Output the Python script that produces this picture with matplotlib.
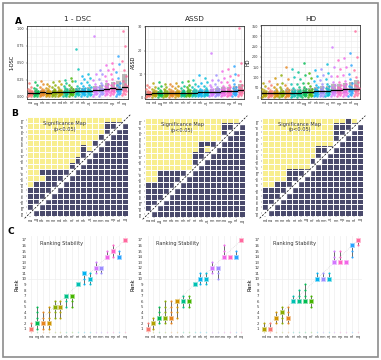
import numpy as np
import matplotlib
matplotlib.use("Agg")
import matplotlib.pyplot as plt
from matplotlib.patches import Rectangle
from matplotlib.colors import ListedColormap, to_rgb

# method names (tiny labels in the source are not legible)
methods = ["m" + c for c in "abcdefghijklmnopq"]

# method (colour index) shown at each x position, per metric
order_dsc = [0, 6, 1, 2, 4, 3, 7, 5, 8, 10, 9, 13, 12, 14, 15, 11, 16]
order_assd = [0, 3, 6, 4, 1, 2, 7, 5, 8, 10, 9, 13, 12, 14, 15, 11, 16]
order_hd = [3, 0, 2, 4, 1, 8, 7, 6, 5, 10, 12, 9, 13, 15, 14, 11, 16]

# A: per-case values, read roughly off the strips
dsc = [
    [0.01, 0.02, 0.03, 0.04, 0.04, 0.05, 0.05, 0.06, 0.06, 0.07, 0.08, 0.09, 0.10, 0.12, 0.15, 0.20],
    [0.01, 0.02, 0.03, 0.04, 0.05, 0.05, 0.06, 0.06, 0.07, 0.07, 0.08, 0.09, 0.11, 0.13, 0.17, 0.22],
    [0.02, 0.03, 0.03, 0.04, 0.05, 0.05, 0.06, 0.07, 0.07, 0.08, 0.09, 0.10, 0.12, 0.15, 0.19, 0.24],
    [0.01, 0.02, 0.03, 0.04, 0.05, 0.05, 0.06, 0.06, 0.07, 0.08, 0.08, 0.09, 0.11, 0.13, 0.16, 0.19],
    [0.01, 0.02, 0.03, 0.04, 0.05, 0.05, 0.06, 0.07, 0.07, 0.08, 0.09, 0.10, 0.12, 0.14, 0.18, 0.22],
    [0.02, 0.03, 0.03, 0.04, 0.05, 0.06, 0.06, 0.07, 0.07, 0.08, 0.09, 0.10, 0.12, 0.15, 0.19, 0.23],
    [0.01, 0.02, 0.03, 0.04, 0.05, 0.06, 0.06, 0.07, 0.08, 0.08, 0.09, 0.11, 0.13, 0.16, 0.20, 0.25],
    [0.02, 0.03, 0.04, 0.04, 0.05, 0.06, 0.07, 0.07, 0.08, 0.09, 0.10, 0.12, 0.14, 0.18, 0.23, 0.28],
    [0.02, 0.03, 0.04, 0.05, 0.06, 0.06, 0.07, 0.08, 0.08, 0.09, 0.11, 0.13, 0.16, 0.24, 0.41, 0.71],
    [0.02, 0.03, 0.04, 0.05, 0.06, 0.07, 0.07, 0.08, 0.09, 0.10, 0.11, 0.13, 0.16, 0.20, 0.26, 0.31],
    [0.02, 0.03, 0.04, 0.05, 0.06, 0.07, 0.08, 0.08, 0.09, 0.10, 0.12, 0.14, 0.17, 0.22, 0.28, 0.34],
    [0.02, 0.04, 0.05, 0.06, 0.07, 0.08, 0.08, 0.09, 0.10, 0.11, 0.13, 0.15, 0.19, 0.25, 0.33, 0.90],
    [0.02, 0.04, 0.05, 0.06, 0.07, 0.08, 0.09, 0.10, 0.11, 0.12, 0.14, 0.17, 0.21, 0.27, 0.34, 0.40],
    [0.03, 0.04, 0.06, 0.07, 0.08, 0.09, 0.10, 0.11, 0.12, 0.14, 0.16, 0.19, 0.24, 0.31, 0.39, 0.47],
    [0.03, 0.05, 0.06, 0.07, 0.08, 0.09, 0.10, 0.12, 0.13, 0.15, 0.17, 0.21, 0.26, 0.33, 0.41, 0.50],
    [0.02, 0.04, 0.05, 0.06, 0.07, 0.08, 0.09, 0.10, 0.12, 0.14, 0.17, 0.21, 0.28, 0.37, 0.48, 0.60],
    [0.03, 0.05, 0.06, 0.08, 0.09, 0.10, 0.12, 0.14, 0.16, 0.19, 0.24, 0.31, 0.40, 0.52, 0.74, 0.97],
]
assd = [
    [0.4, 0.7, 0.9, 1.1, 1.3, 1.4, 1.6, 1.7, 1.9, 2.1, 2.3, 2.6, 3.0, 3.6, 4.4, 5.6],
    [0.5, 0.7, 1.0, 1.2, 1.3, 1.5, 1.6, 1.8, 2.0, 2.2, 2.4, 2.7, 3.1, 3.8, 4.7, 6.2],
    [0.4, 0.8, 1.0, 1.1, 1.3, 1.5, 1.7, 1.8, 2.0, 2.2, 2.5, 2.8, 3.3, 4.0, 5.0, 6.6],
    [0.5, 0.7, 0.9, 1.1, 1.3, 1.4, 1.6, 1.8, 1.9, 2.1, 2.4, 2.7, 3.1, 3.7, 4.5, 5.9],
    [0.5, 0.8, 1.0, 1.2, 1.4, 1.5, 1.7, 1.9, 2.0, 2.2, 2.5, 2.8, 3.2, 3.9, 4.8, 6.0],
    [0.5, 0.8, 1.0, 1.2, 1.4, 1.6, 1.7, 1.9, 2.1, 2.3, 2.6, 2.9, 3.4, 4.1, 5.1, 6.4],
    [0.6, 0.8, 1.0, 1.2, 1.4, 1.6, 1.8, 2.0, 2.1, 2.3, 2.6, 3.0, 3.5, 4.2, 5.2, 6.8],
    [0.6, 0.9, 1.1, 1.3, 1.5, 1.7, 1.8, 2.0, 2.2, 2.4, 2.7, 3.1, 3.6, 4.4, 5.5, 7.1],
    [0.6, 0.9, 1.1, 1.3, 1.5, 1.7, 1.9, 2.1, 2.3, 2.5, 2.8, 3.2, 3.8, 4.6, 5.9, 7.4],
    [0.6, 0.9, 1.2, 1.4, 1.6, 1.8, 2.0, 2.2, 2.4, 2.6, 2.9, 3.3, 3.9, 4.9, 6.4, 9.6],
    [0.7, 1.0, 1.2, 1.4, 1.6, 1.8, 2.0, 2.2, 2.4, 2.7, 3.0, 3.4, 4.0, 5.0, 6.5, 8.4],
    [0.7, 1.0, 1.3, 1.5, 1.7, 1.9, 2.1, 2.3, 2.6, 2.9, 3.2, 3.7, 4.4, 5.6, 7.6, 18.8],
    [0.7, 1.0, 1.3, 1.5, 1.7, 2.0, 2.2, 2.4, 2.6, 2.9, 3.3, 3.8, 4.5, 5.7, 7.4, 9.8],
    [0.8, 1.1, 1.4, 1.6, 1.9, 2.1, 2.3, 2.6, 2.9, 3.2, 3.6, 4.2, 5.1, 6.5, 8.6, 11.2],
    [0.8, 1.1, 1.4, 1.7, 1.9, 2.2, 2.4, 2.7, 3.0, 3.3, 3.8, 4.4, 5.4, 6.9, 9.3, 12.4],
    [0.8, 1.2, 1.5, 1.7, 2.0, 2.2, 2.5, 2.8, 3.1, 3.5, 4.0, 4.7, 5.8, 7.6, 10.2, 13.5],
    [0.9, 1.3, 1.6, 1.9, 2.2, 2.5, 2.8, 3.1, 3.5, 4.0, 4.6, 5.5, 7.0, 9.6, 14.8, 29.6],
]
hd = [
    [5, 8, 11, 13, 15, 17, 19, 21, 23, 25, 28, 32, 38, 46, 58, 75],
    [5, 9, 11, 14, 16, 18, 20, 22, 24, 27, 30, 34, 40, 50, 64, 85],
    [6, 9, 12, 14, 16, 18, 20, 23, 25, 28, 31, 36, 43, 54, 70, 95],
    [5, 8, 11, 13, 15, 17, 19, 22, 24, 27, 30, 35, 42, 55, 75, 110],
    [6, 9, 12, 14, 16, 18, 21, 23, 26, 29, 33, 39, 48, 62, 90, 150],
    [6, 10, 12, 15, 17, 19, 22, 24, 27, 30, 34, 40, 50, 68, 100, 140],
    [6, 10, 13, 15, 17, 20, 22, 25, 27, 31, 35, 41, 51, 66, 92, 125],
    [7, 10, 13, 16, 18, 20, 23, 26, 29, 32, 37, 44, 55, 75, 110, 170],
    [7, 11, 14, 16, 19, 21, 24, 27, 30, 34, 39, 46, 57, 74, 98, 120],
    [8, 12, 15, 18, 21, 24, 27, 30, 34, 38, 44, 52, 64, 82, 108, 135],
    [8, 12, 16, 19, 22, 25, 28, 32, 35, 40, 46, 54, 67, 86, 112, 140],
    [8, 13, 16, 19, 23, 26, 29, 33, 37, 42, 48, 57, 70, 90, 120, 165],
    [9, 14, 18, 22, 25, 28, 32, 36, 40, 45, 52, 62, 78, 105, 150, 250],
    [9, 14, 18, 22, 26, 29, 33, 37, 42, 47, 54, 64, 80, 105, 140, 185],
    [9, 15, 19, 23, 27, 30, 34, 39, 44, 50, 57, 68, 85, 110, 150, 195],
    [10, 15, 20, 24, 28, 32, 36, 41, 46, 52, 60, 72, 90, 118, 160, 220],
    [10, 16, 21, 25, 29, 33, 38, 43, 49, 56, 65, 80, 102, 138, 200, 325],
]

# B: highest y (rank position) that is still non-significant for each x column
top_dark_dsc = [5, 6, 6, 8, 8, 8, 8, 9, 10, 12, 11, 13, 14, 16, 16, 16, 17]
top_dark_assd = [6, 6, 8, 8, 8, 8, 8, 8, 11, 13, 13, 13, 13, 16, 16, 16, 17]
top_dark_hd = [5, 5, 6, 6, 8, 8, 8, 8, 10, 12, 12, 12, 16, 16, 17, 16, 17]
flip_dsc = [(3, 8)]
flip_assd = [(11, 12)]
flip_hd = []

# C: observed rank and bootstrap rank range per x position
rank_dsc = [1, 2, 2, 2, 5, 5, 7, 7, 9, 11, 10, 12, 12, 14, 15, 14, 17]
lo_dsc = [1, 1, 1, 1, 3, 3, 5, 5, 9, 9, 9, 11, 11, 14, 14, 14, 17]
hi_dsc = [2, 5, 4, 5, 6, 6, 7, 7, 9, 11, 11, 13, 12, 15, 16, 15, 17]
rank_assd = [1, 2, 3, 3, 3, 6, 6, 6, 9, 10, 10, 12, 12, 14, 14, 14, 17]
lo_assd = [1, 1, 2, 2, 2, 3, 5, 5, 9, 9, 9, 11, 10, 14, 14, 14, 17]
hi_assd = [2, 3, 5, 6, 6, 6, 7, 7, 9, 11, 11, 13, 12, 16, 14, 15, 17]
rank_hd = [1, 1, 3, 4, 3, 6, 6, 6, 6, 10, 10, 10, 13, 13, 13, 16, 17]
lo_hd = [1, 1, 2, 2, 2, 6, 6, 6, 5, 10, 10, 10, 13, 13, 13, 14, 16]
hi_hd = [2, 2, 4, 5, 5, 7, 8, 9, 7, 11, 11, 11, 15, 15, 13, 16, 17]


def hcl(h, c=100.0, l=65.0):
    # ggplot-style hue palette colour (polar Luv -> sRGB)
    h = np.deg2rad(h)
    u, v = c * np.cos(h), c * np.sin(h)
    xn, yn, zn = 95.047, 100.0, 108.883
    un = 4 * xn / (xn + 15 * yn + 3 * zn)
    vn = 9 * yn / (xn + 15 * yn + 3 * zn)
    Y = yn * ((l + 16) / 116) ** 3
    up, vp = u / (13 * l) + un, v / (13 * l) + vn
    X = Y * 9 * up / (4 * vp)
    Z = Y * (12 - 3 * up - 20 * vp) / (4 * vp)
    m = np.array([[3.2406, -1.5372, -0.4986], [-0.9689, 1.8758, 0.0415], [0.0557, -0.2040, 1.0570]])
    rgb = m @ np.array([X, Y, Z]) / 100
    rgb = np.where(rgb <= 0.0031308, 12.92 * rgb, 1.055 * np.abs(rgb) ** (1 / 2.4) - 0.055)
    return tuple(np.clip(rgb, 0, 1))


palette = [hcl(h) for h in np.linspace(15, 375, 18)[:-1]]
YELLOW = "#F8EE8E"
DARK = "#4A4A6C"

W, H = 381, 360
fig = plt.figure(figsize=(W / 100, H / 100), dpi=100)


def px_axes(x0, y0, x1, y1):
    return fig.add_axes([x0 / W, 1 - y1 / H, (x1 - x0) / W, (y1 - y0) / H])


def small_ticks(ax, labels):
    ax.set_xticks(range(1, 18))
    ax.set_xticklabels(labels)
    ax.tick_params(labelsize=2.4, length=1, width=0.3, pad=0.8, colors="#333333")


def strip_panel(ax, values, order, ylabel, yticks, ylim, fmt):
    for i, vals in enumerate(values):
        x = i + 1
        v = np.array(vals, dtype=float)
        q1, med, q3 = np.percentile(v, [25, 50, 75])
        ax.add_patch(Rectangle((x - 0.38, q1), 0.76, q3 - q1, facecolor="0.45",
                               alpha=0.5, edgecolor="none", zorder=2))
        jit = ((np.arange(len(v)) * 0.618) % 1 - 0.5) * 0.8
        ax.scatter(x + jit, v, s=3.4, color=palette[order[i]], alpha=0.8,
                   linewidths=0, zorder=3)
        ax.plot([x - 0.42, x + 0.42], [med, med], color="black", lw=0.9, zorder=4)
    ax.set_xlim(0.4, 17.6)
    ax.set_ylim(*ylim)
    ax.set_yticks(yticks)
    ax.set_yticklabels([fmt % t for t in yticks])
    ax.set_yticks([(a + b) / 2 for a, b in zip(yticks[:-1], yticks[1:])], minor=True)
    ax.tick_params(which="minor", length=0)
    small_ticks(ax, [methods[m] for m in order])
    ax.grid(True, which="both", color="#ebebeb", lw=0.4, zorder=0)
    ax.set_axisbelow(True)
    for s in ax.spines.values():
        s.set_color("#333333")
        s.set_linewidth(0.6)
    ax.set_ylabel(ylabel, fontsize=3.5, labelpad=1.5)


def sig_panel(ax, top_dark, flips, order):
    n = 17
    grid = np.zeros((n, n))
    for c in range(n):
        for r in range(n):
            grid[r, c] = 1 if r + 1 > top_dark[c] else 0
    for c, r in flips:
        grid[r - 1, c - 1] = 1 - grid[r - 1, c - 1]
    ax.imshow(grid, origin="lower", cmap=ListedColormap([DARK, YELLOW]),
              extent=(0.5, n + 0.5, 0.5, n + 0.5), aspect="auto",
              interpolation="nearest", vmin=0, vmax=1)
    for k in range(1, n + 1):
        ax.add_patch(Rectangle((k - 0.5, k - 0.5), 1, 1, color="white", zorder=2))
    for k in range(n + 1):
        ax.axvline(k + 0.5, color="white", lw=0.7, zorder=3)
        ax.axhline(k + 0.5, color="white", lw=0.7, zorder=3)
    ax.plot([0.1, 17.9], [0.1, 17.9], color="black", lw=0.5, ls=(0, (3, 2)),
            zorder=4, clip_on=False)
    ax.set_xlim(0.5, 17.5)
    ax.set_ylim(0.5, 17.5)
    lab = [methods[m] for m in order]
    small_ticks(ax, lab)
    ax.set_yticks(range(1, 18))
    ax.set_yticklabels(lab, rotation=90, va="center")
    for s in ax.spines.values():
        s.set_visible(False)
    ax.text(6.8, 15.9, "Significance Map\n(p<0.05)", fontsize=3.6, ha="center",
            va="center", color="#333333", zorder=5, linespacing=1.1)


def rank_panel(ax, ranks, lo, hi, order):
    for k in range(1, 18):
        ax.axvline(k, color="#eeeeee", lw=0.5, zorder=0)
    ax.axhline(10, color="#eeeeee", lw=0.5, zorder=0)
    ax.plot([1, 17], [1, 17], color="#d0d0d0", lw=0.5, ls=":", zorder=1)
    for i in range(17):
        x = i + 1
        col = palette[order[i]]
        light = tuple(0.45 * np.array(to_rgb(col)) + 0.55)
        if hi[i] > lo[i]:
            ax.plot([x, x], [lo[i], hi[i]], color="#6a6a6a", lw=0.7, zorder=2)
        for r in range(lo[i], hi[i] + 1):
            if r != ranks[i]:
                ax.scatter(x, r, s=2.2, color=col, linewidths=0, zorder=3)
        ax.scatter(x, ranks[i], s=12, marker="s", color=col, edgecolors=light,
                   linewidths=0.6, zorder=4)
        ax.scatter(x, 0.5, s=1.2, color=col, alpha=0.25, linewidths=0, zorder=1)
    ax.set_xlim(0.4, 17.6)
    ax.set_ylim(0.1, 17.7)
    small_ticks(ax, [methods[m] for m in order])
    ax.set_yticks(range(1, 18))
    ax.tick_params(axis="y", labelsize=2.8, length=0)
    ax.tick_params(axis="x", length=0)
    for s in ax.spines.values():
        s.set_visible(False)
    ax.set_ylabel("Rank", fontsize=3.6, labelpad=1.5)
    ax.text(6.2, 16.3, "Ranking Stability", fontsize=3.6, ha="center",
            va="center", color="#333333")


# row A
a1 = px_axes(27, 26, 128, 99)
strip_panel(a1, dsc, order_dsc, "1-DSC", [0, 0.25, 0.5, 0.75, 1.0], (-0.03, 1.04), "%.2f")
a2 = px_axes(145, 26, 244, 99)
strip_panel(a2, assd, order_assd, "ASSD", [0, 10, 20, 30], (-0.5, 30.4), "%d")
a3 = px_axes(261, 25, 360, 99)
strip_panel(a3, hd, order_hd, "HD", [0, 50, 100, 150, 200, 250, 300, 350], (-5, 355), "%d")
for ax, t in [(a1, "1 - DSC"), (a2, "ASSD"), (a3, "HD")]:
    bb = ax.get_position()
    fig.text((bb.x0 + bb.x1) / 2, 1 - 19 / H, t, fontsize=5.2, ha="center",
             va="center", color="#222222")

# row B
b1 = px_axes(27, 117, 128, 216)
sig_panel(b1, top_dark_dsc, flip_dsc, order_dsc)
b2 = px_axes(145, 118, 245, 217)
sig_panel(b2, top_dark_assd, flip_assd, order_assd)
b3 = px_axes(262, 118, 363, 216)
sig_panel(b3, top_dark_hd, flip_hd, order_hd)

# row C
c1 = px_axes(27.5, 236, 128.5, 334)
rank_panel(c1, rank_dsc, lo_dsc, hi_dsc, order_dsc)
c2 = px_axes(144, 236, 245, 334)
rank_panel(c2, rank_assd, lo_assd, hi_assd, order_assd)
c3 = px_axes(260.5, 236, 361.5, 334)
rank_panel(c3, rank_hd, lo_hd, hi_hd, order_hd)

for letter, x, y in [("A", 18, 21), ("B", 15, 114), ("C", 11, 232)]:
    fig.text(x / W, 1 - y / H, letter, fontsize=6.5, fontweight="bold",
             ha="center", va="center")

fig.add_artist(Rectangle((3 / W, 3 / H), 375 / W, 354 / H, transform=fig.transFigure,
                         fill=False, edgecolor="#8c8c8c", lw=1.2))

fig.savefig("out.png", dpi=100)
